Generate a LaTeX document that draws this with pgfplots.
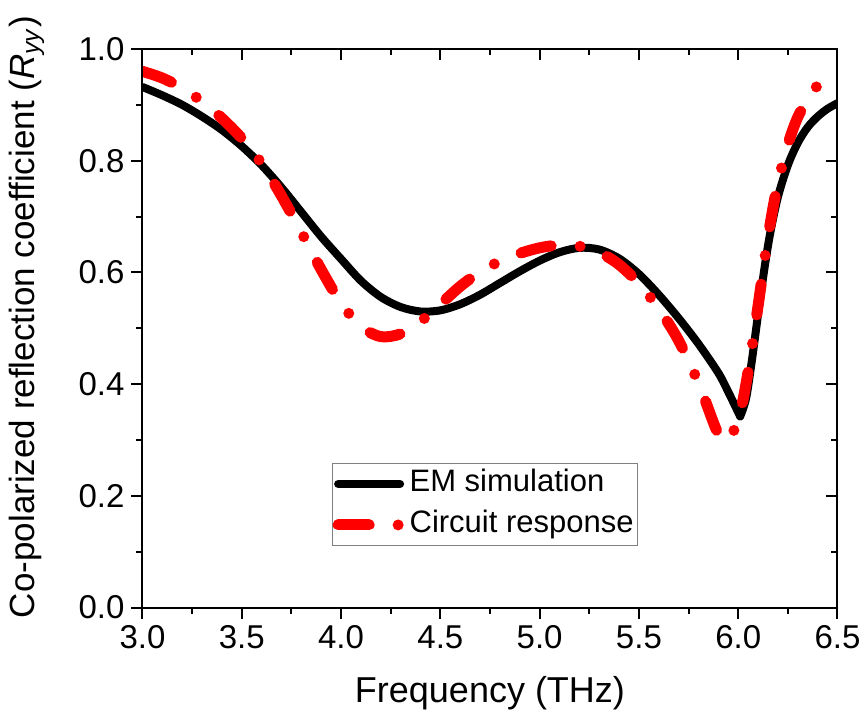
\documentclass[border=0pt]{standalone}
\usepackage{pgfplots}
\pgfplotsset{compat=1.18}
\usepackage{fontspec}
\setmainfont{Liberation Sans}

\pgfplotstableread{
x y
3.00 0.932
3.10 0.917
3.20 0.900
3.30 0.879
3.40 0.855
3.50 0.826
3.60 0.792
3.70 0.752
3.80 0.708
3.90 0.664
4.00 0.624
4.10 0.585
4.20 0.556
4.30 0.538
4.40 0.530
4.50 0.532
4.60 0.543
4.70 0.560
4.80 0.581
4.90 0.602
5.00 0.621
5.10 0.636
5.20 0.644
5.30 0.641
5.40 0.625
5.50 0.597
5.60 0.560
5.70 0.518
5.80 0.472
5.90 0.420
5.95 0.386
6.01 0.342
}\emA

\pgfplotstableread{
x y
6.01 0.342
6.04 0.375
6.07 0.445
6.10 0.525
6.13 0.602
6.16 0.668
6.20 0.735
6.25 0.792
6.30 0.832
6.35 0.860
6.40 0.879
6.45 0.893
6.50 0.903
}\emB

\pgfplotstableread{
x y
3.00 0.960
3.10 0.948
3.20 0.930
3.30 0.906
3.40 0.876
3.50 0.840
3.60 0.795
3.70 0.737
3.80 0.672
3.90 0.605
4.00 0.545
4.10 0.503
4.20 0.485
4.30 0.490
4.40 0.512
4.50 0.543
4.60 0.575
4.70 0.601
4.80 0.620
4.90 0.634
5.00 0.644
5.10 0.649
5.20 0.647
5.30 0.636
5.40 0.614
5.50 0.580
5.60 0.535
5.70 0.478
5.80 0.402
5.89 0.318
5.93 0.298
5.97 0.310
6.02 0.365
6.06 0.445
6.10 0.540
6.14 0.640
6.18 0.725
6.22 0.790
6.26 0.840
6.30 0.878
6.35 0.910
6.40 0.935
6.45 0.952
6.50 0.965
}\circuit

\begin{document}
\begin{tikzpicture}
\useasboundingbox (-71.25pt,-52.75pt) rectangle (360.75pt,303.75pt);
\begin{axis}[
  at={(0pt,0pt)}, anchor=south west,
  scale only axis, width=347.5pt, height=279.25pt,
  xmin=3, xmax=6.5, ymin=0, ymax=1,
  xtick={3,3.5,4,4.5,5,5.5,6,6.5},
  ytick={0,0.2,0.4,0.6,0.8,1.0},
  minor x tick num=1, minor y tick num=1,
  xtick pos=left, ytick pos=left,
  tick align=outside,
  major tick length=5.5pt, minor tick length=3pt,
  every tick/.style={black, line width=1pt},
  axis line style={black, line width=1pt},
  ticklabel style={font=\fontsize{16.5}{19}\selectfont},
  /pgf/number format/.cd, fixed, fixed zerofill, precision=1, assume math mode=true,
  /pgfplots/.cd,
  xlabel={Frequency (THz)},
  ylabel={Co-polarized reflection coefficient (\textit{R}\textsubscript{\textit{yy}})},
  xlabel style={font=\fontsize{18}{21}\selectfont, at={(axis description cs:0.5,-0.1696)}, anchor=base},
  ylabel style={font=\fontsize{17.5}{20}\selectfont, at={(axis description cs:-0.166,0.52)}, anchor=center},
  legend style={at={(axis description cs:0.2727,0.110)}, anchor=south west,
    draw=gray, line width=0.6pt, inner xsep=0pt, inner ysep=0pt,
    font=\fontsize{15.5}{18}\selectfont, row sep=0pt, column sep=0pt,
    nodes={inner xsep=2pt, inner ysep=3pt, text height=11pt, text depth=3.5pt}},
  legend cell align=left,
  legend image code/.code={\path[draw=none,fill=none] (0pt,-5pt) rectangle (36pt,5pt); \draw[#1] (2.5pt,0pt) -- (33.5pt,0pt);},
]
\addplot[black, line width=4pt, line cap=round, line join=round, smooth] table {\emA};
\addlegendentry{EM simulation}
\addplot[black, line width=4pt, line cap=round, line join=round, smooth, forget plot] table {\emB};
\addplot[red, line width=5.5pt, line cap=round, line join=round, smooth,
  dash pattern=on 15.5pt off 14.5pt on 0pt off 14.5pt] table {\circuit};
\addlegendentry{Circuit response}
\end{axis}
\begin{axis}[
  at={(0pt,0pt)}, anchor=south west,
  scale only axis, width=347.5pt, height=279.25pt,
  xmin=3, xmax=6.5, ymin=0, ymax=1,
  xtick={3,3.5,4,4.5,5,5.5,6,6.5},
  ytick={0,0.2,0.4,0.6,0.8,1.0},
  minor x tick num=1, minor y tick num=1,
  xtick pos=right, ytick pos=right,
  tick align=inside,
  major tick length=5.5pt, minor tick length=3pt,
  every tick/.style={black, line width=1pt},
  axis line style={black, line width=1pt},
  xticklabels={}, yticklabels={},
]
\end{axis}
\end{tikzpicture}
\end{document}
